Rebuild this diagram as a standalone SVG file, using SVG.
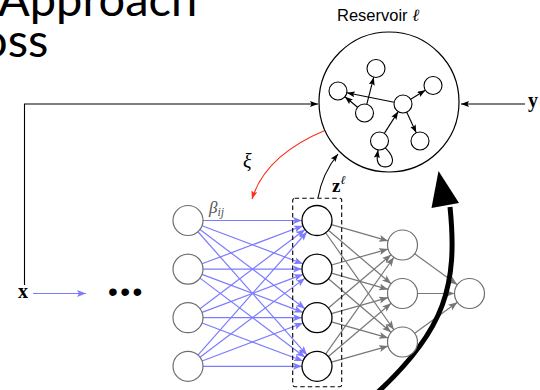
<svg xmlns="http://www.w3.org/2000/svg" width="540" height="390" viewBox="0 0 540 390">
<style>
.title{font-family:Lato,"Open Sans",sans-serif;font-size:47px;fill:#000}
.lbl{font-family:"Liberation Sans",Arial,sans-serif;font-size:16.5px;fill:#000}
.math{font-family:"Liberation Serif","Times New Roman",serif}
.gnode{fill:#fff;stroke:#6e6e6e;stroke-width:1.2}
.bnode{fill:#fff;stroke:#000;stroke-width:1.3}
.rnode{fill:#fff;stroke:#000;stroke-width:1.1}
.blue{stroke:#7b7bff;stroke-width:1.2;fill:none;marker-end:url(#ab)}
.gray{stroke:#777;stroke-width:1.2;fill:none;marker-end:url(#ag)}
.blk{stroke:#000;stroke-width:1.1;fill:none;marker-end:url(#ak)}
</style>
<defs>
<marker id="ab" markerUnits="userSpaceOnUse" markerWidth="10" markerHeight="8" refX="9" refY="3.5" orient="auto"><path d="M0,0 L9,3.5 L0,7 L2,3.5 z" fill="#7b7bff"/></marker>
<marker id="ag" markerUnits="userSpaceOnUse" markerWidth="10" markerHeight="8" refX="9" refY="3.5" orient="auto"><path d="M0,0 L9,3.5 L0,7 L2,3.5 z" fill="#777"/></marker>
<marker id="ak" markerUnits="userSpaceOnUse" markerWidth="10" markerHeight="8" refX="8" refY="3" orient="auto"><path d="M0,0 L8,3 L0,6 L1.5,3 z" fill="#000"/></marker>
<marker id="ar" markerUnits="userSpaceOnUse" markerWidth="10" markerHeight="8" refX="8" refY="3" orient="auto"><path d="M0,0 L8,3 L0,6 L1.5,3 z" fill="#ff2a1a"/></marker>
</defs>

<g id="title">
<text class="title" x="-2" y="16">Approach</text>
<text class="title" x="-19" y="57">oss</text>
</g>

<g id="connectors">
<path d="M24.5,285 V104 H318" style="stroke:#000;stroke-width:1.1;fill:none;marker-end:url(#ak)"/>
<path class="blk" d="M525,104 H461"/>
<path class="blue" d="M33,293.5 H86"/>
<path d="M324.3,130.7 C292,144 262,166 252,199" style="stroke:#ff2a1a;stroke-width:1.1;fill:none;marker-end:url(#ar)"/>
<path class="blk" d="M318,198 Q322,174 338,154"/>
<path class="blue" d="M203,220.5 L302,220.5"/>
<path class="blue" d="M202.04,225.79 L302.96,263.81"/>
<path class="blue" d="M199.98,229.53 L305.02,308.67"/>
<path class="blue" d="M197.94,231.73 L307.06,355.07"/>
<path class="blue" d="M202.04,263.81 L302.96,225.79"/>
<path class="blue" d="M203,269.1 L302,269.1"/>
<path class="blue" d="M202.04,274.39 L302.96,312.41"/>
<path class="blue" d="M199.98,278.13 L305.02,357.27"/>
<path class="blue" d="M199.98,308.67 L305.02,229.53"/>
<path class="blue" d="M202.04,312.41 L302.96,274.39"/>
<path class="blue" d="M203,317.7 L302,317.7"/>
<path class="blue" d="M202.04,322.99 L302.96,361.01"/>
<path class="blue" d="M197.94,355.07 L307.06,231.73"/>
<path class="blue" d="M199.98,357.27 L305.02,278.13"/>
<path class="blue" d="M202.04,361.01 L302.96,322.99"/>
<path class="blue" d="M203,366.3 L302,366.3"/>
<path class="gray" d="M331.43,224.6 L388.07,240.9"/>
<path class="gray" d="M328.41,230.23 L391.09,283.77"/>
<path class="gray" d="M325.64,232.76 L393.86,329.74"/>
<path class="gray" d="M331.43,265 L388.07,249.1"/>
<path class="gray" d="M331.43,273.2 L388.07,289.4"/>
<path class="gray" d="M328.41,278.83 L391.09,332.27"/>
<path class="gray" d="M328.41,307.97 L391.09,254.73"/>
<path class="gray" d="M331.43,313.6 L388.07,297.6"/>
<path class="gray" d="M331.43,321.8 L388.07,337.9"/>
<path class="gray" d="M325.64,354.04 L393.86,257.26"/>
<path class="gray" d="M328.41,356.57 L391.09,303.23"/>
<path class="gray" d="M331.43,362.2 L388.07,346.1"/>
<path class="gray" d="M414.65,253.8 L457.35,284.7"/>
<path class="gray" d="M417.5,293.5 L454.5,293.5"/>
<path class="gray" d="M414.65,333.2 L457.35,302.3"/>
<path class="blk" d="M366.75,104.29 L373.75,77.21"/>
<path class="blk" d="M394.17,102.24 L346.83,92.76"/>
<path class="blk" d="M357.58,107.25 L344.92,96.75"/>
<path class="blk" d="M410.66,99.28 L425.34,90.22"/>
<path class="blk" d="M384.33,133.4 L398.17,111.6"/>
<path class="blk" d="M406.76,112.18 L416.24,132.82"/>
<path class="blk" d="M385.3,147.9 C398,160 392,170 381,166 C376,163 377,157 378,150"/>
<path d="M378,392 C445,330 458,285 450,207" style="stroke:#000;stroke-width:5;fill:none"/>
<polygon points="438.5,171 431.5,208 459,203" fill="#000"/>
</g>

<g id="reservoir">
<circle cx="389" cy="102" r="70" style="fill:none;stroke:#000;stroke-width:1.2"/>
<text class="lbl" x="337" y="21">Reservoir <tspan class="math" font-style="italic" font-size="17">ℓ</tspan></text>
<circle class="rnode" cx="376" cy="68.5" r="9"/>
<circle class="rnode" cx="338" cy="91" r="9"/>
<circle class="rnode" cx="433" cy="85.5" r="9"/>
<circle class="rnode" cx="403" cy="104" r="9"/>
<circle class="rnode" cx="364.5" cy="113" r="9"/>
<circle class="rnode" cx="379.5" cy="141" r="9"/>
<circle class="rnode" cx="420" cy="141" r="9"/>
</g>

<g id="input-x"><text class="math" x="18" y="298" font-size="20" font-weight="bold">x</text></g>
<g id="output-y"><text class="math" x="528" y="107" font-size="20" font-weight="bold">y</text></g>
<g id="dots"><text x="108" y="301" font-family="Liberation Sans, Arial, sans-serif" font-size="28" letter-spacing="2.5">•••</text></g>
<g id="label-xi"><text class="math" x="243" y="168" font-size="20" font-style="italic">ξ</text></g>
<g id="label-beta"><text class="math" x="209" y="213" font-size="17" font-style="italic" fill="#555">β<tspan font-size="12" dy="3">ij</tspan></text></g>
<g id="label-z"><text class="math" x="332" y="192" font-size="19" font-weight="bold">z<tspan font-size="12" font-weight="normal" font-style="italic" dy="-8">ℓ</tspan></text></g>

<g id="input-layer">
<circle class="gnode" cx="188" cy="220.5" r="15"/>
<circle class="gnode" cx="188" cy="269.1" r="15"/>
<circle class="gnode" cx="188" cy="317.7" r="15"/>
<circle class="gnode" cx="188" cy="366.3" r="15"/>
</g>
<g id="z-layer">
<rect x="292.7" y="198.3" width="49" height="188.4" rx="2" style="fill:none;stroke:#000;stroke-width:1.1;stroke-dasharray:4.5,3"/>
<circle class="bnode" cx="317" cy="220.5" r="15"/>
<circle class="bnode" cx="317" cy="269.1" r="15"/>
<circle class="bnode" cx="317" cy="317.7" r="15"/>
<circle class="bnode" cx="317" cy="366.3" r="15"/>
</g>
<g id="hidden-layer">
<circle class="gnode" cx="402.5" cy="245" r="15"/>
<circle class="gnode" cx="402.5" cy="293.5" r="15"/>
<circle class="gnode" cx="402.5" cy="342" r="15"/>
</g>
<g id="output-node">
<circle class="gnode" cx="469.5" cy="293.5" r="15"/>
</g>
</svg>
